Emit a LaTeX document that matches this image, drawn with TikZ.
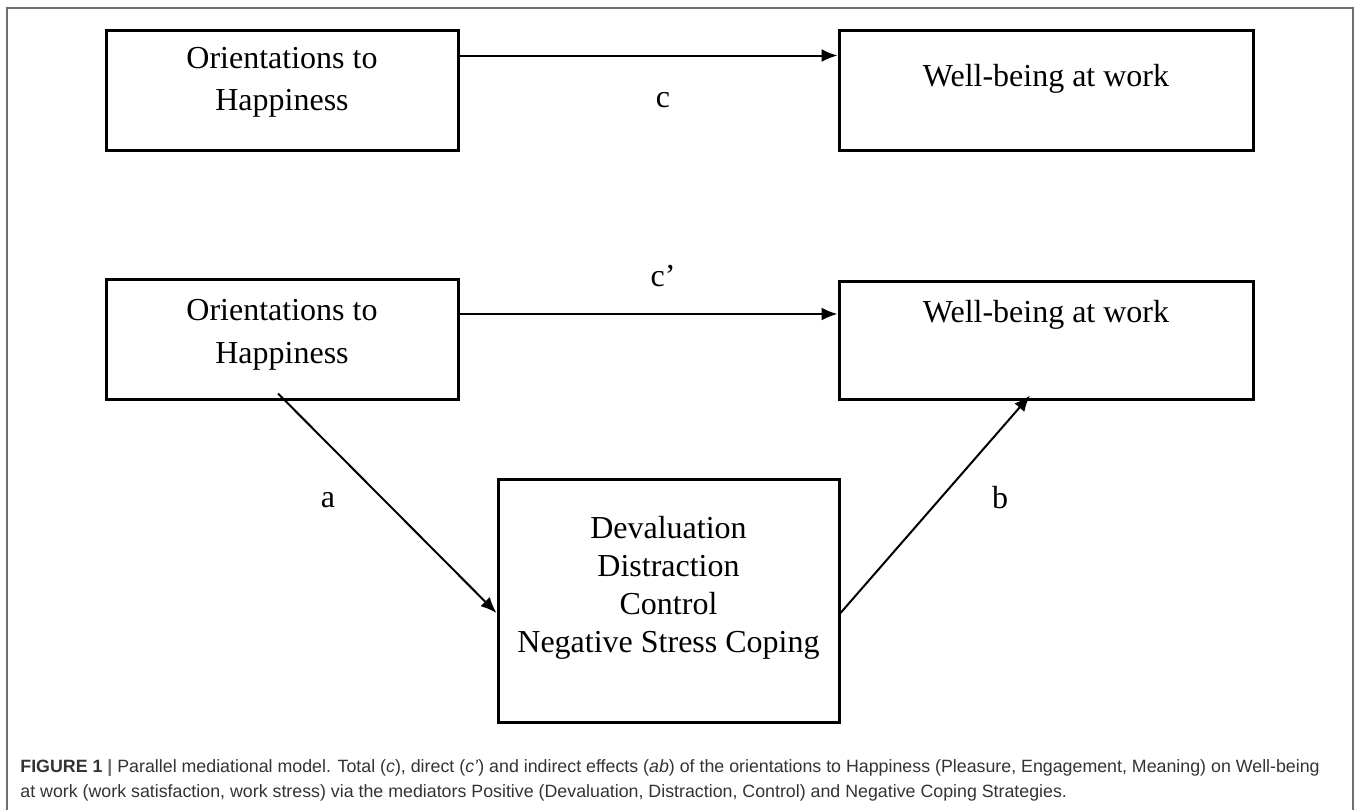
\documentclass[tikz,border=0pt]{standalone}
\usepackage{fontspec}
\setmainfont{Liberation Serif}
\newfontfamily\captionsans{Liberation Sans}
\usetikzlibrary{arrows.meta,positioning}
\definecolor{frameGray}{HTML}{6E6E6E}
\definecolor{captionGray}{HTML}{333333}
\tikzset{
  varbox/.style={draw=black, line width=1.5pt, align=center, inner sep=0pt,
    font=\fontsize{16pt}{19pt}\selectfont},
  predictor/.style={varbox, minimum width=176pt, minimum height=60pt},
  outcome/.style={varbox, minimum width=207pt, minimum height=60pt, text height=11pt},
  mediator/.style={varbox, minimum width=170.5pt, minimum height=121.5pt},
  effect/.style={-{Latex[length=8pt,width=6.5pt]}, line width=1pt, draw=black},
  pathlabel/.style={font=\fontsize{16pt}{19pt}\selectfont, inner sep=0pt},
  framerule/.style={draw=frameGray, line width=0.8pt},
  captiontext/.style={font=\captionsans\fontsize{8.9pt}{12.5pt}\selectfont, text=captionGray,
    align=left, inner sep=0pt}
}

\begin{document}
\begin{tikzpicture}
  \useasboundingbox (0,0) rectangle (679pt,-405pt);
  \draw[framerule] (3.5pt,-405pt) -- (3.5pt,-4pt) -- (676.5pt,-4pt) -- (676.5pt,-405pt);

  \node[predictor, text height=32pt, text depth=12.5pt] (ori1) at (141pt,-45.25pt) {Orientations to\\[2pt]Happiness};
  \node[outcome, right=189pt of ori1, text depth=15.5pt] (well1) {Well-being at work};

  \node[predictor, below=63pt of ori1, text height=32.5pt, text depth=8.5pt] (ori2) {Orientations to\\[2.5pt]Happiness};
  \node[outcome, below=64pt of well1, minimum height=59pt, text depth=29pt] (well2) {Well-being at work};
  \node[mediator, below right=38.5pt and 18.5pt of ori2, text height=68pt, text depth=16.5pt] (coping) {Devaluation\\Distraction\\Control\\Negative Stress Coping};

  \draw[effect] ([yshift=17.5pt]ori1.east) -- ([yshift=17.5pt]well1.west);
  \draw[effect] ([yshift=12.75pt]ori2.east) -- ([yshift=13.25pt]well2.west);
  \draw[effect] ([shift={(-2pt,3.75pt)}]ori2.south) -- ([yshift=-6pt]coping.west);
  \draw[effect] ([yshift=-6pt]coping.east) -- ([shift={(-8pt,2.75pt)}]well2.south);

  \node[pathlabel] (lblc) at (331.5pt,-50pt) {c};
  \node[pathlabel] (lblcdash) at (331.5pt,-138pt) {c’};
  \node[pathlabel] (lbla) at (164pt,-250pt) {a};
  \node[pathlabel] (lblb) at (500pt,-248.75pt) {b};

  \node[captiontext, anchor=north west] (caption) at (10pt,-379.8pt)
    {\textbf{FIGURE 1 {\color{frameGray}|}} Parallel mediational model. Total (\textit{c}), direct (\textit{c’}) and indirect effects (\textit{ab}) of the orientations to Happiness (Pleasure, Engagement, Meaning) on Well-being\\
     at work (work satisfaction, work stress) via the mediators Positive (Devaluation, Distraction, Control) and Negative Coping Strategies.};
\end{tikzpicture}
\end{document}
